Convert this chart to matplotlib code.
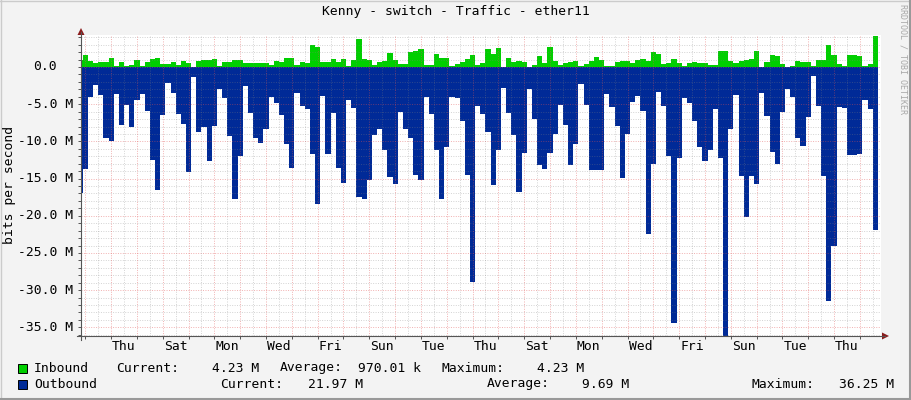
import numpy as np
import matplotlib.pyplot as plt
from matplotlib.lines import Line2D
from matplotlib.patches import Rectangle, Polygon
from matplotlib.transforms import blended_transform_factory

# time axis in days, t=0 is Wednesday 00:00; one sample every 0.2 day
t_first = -0.3
t_step = 0.2

# outbound traffic, Mbit/s (drawn below zero)
outbound = [
    17.0, 13.7, 4.0, 2.4, 3.7, 9.6, 9.9, 3.6, 7.8, 5.1,
    8.1, 4.4, 3.6, 5.9, 12.5, 16.6, 6.4, 2.1, 3.5, 6.3,
    7.6, 14.1, 1.3, 8.7, 8.0, 12.7, 7.9, 3.0, 4.2, 9.3,
    17.8, 11.9, 2.6, 6.2, 9.6, 10.2, 8.4, 4.0, 4.8, 6.4,
    10.4, 13.6, 3.5, 5.2, 5.7, 11.7, 18.4, 3.9, 11.7, 6.2,
    13.6, 15.6, 4.5, 5.5, 17.5, 17.8, 15.2, 9.1, 8.4, 11.1,
    14.8, 15.7, 6.0, 8.4, 9.6, 14.5, 15.2, 4.0, 6.3, 11.1,
    17.7, 10.8, 4.0, 4.2, 7.2, 14.5, 28.9, 5.2, 6.3, 8.7,
    15.8, 11.1, 2.8, 6.2, 9.2, 16.8, 11.6, 3.0, 7.0, 13.2,
    13.7, 11.6, 9.0, 5.1, 7.8, 13.2, 10.4, 2.3, 5.1, 13.9,
    13.9, 13.9, 3.6, 5.4, 7.9, 14.9, 9.0, 4.7, 3.9, 5.9,
    22.4, 13.0, 3.4, 5.2, 11.9, 34.4, 12.2, 4.2, 4.8, 7.2,
    10.8, 12.7, 11.1, 5.7, 12.2, 36.25, 8.3, 3.7, 14.6, 20.1,
    14.7, 15.7, 3.5, 6.6, 11.4, 13.1, 6.1, 3.0, 4.0, 9.6,
    10.6, 6.7, 1.2, 5.3, 14.6, 31.4, 24.0, 5.4, 5.5, 11.8,
    11.8, 11.7, 4.4, 5.7, 21.97,
]

# inbound traffic, Mbit/s
inbound = [
    1.0, 1.6, 0.85, 0.6, 0.7, 0.7, 1.2, 0.2, 0.7, 0.2,
    0.3, 0.9, 0.2, 0.7, 1.1, 1.2, 0.4, 0.45, 0.7, 0.3,
    0.8, 0.6, 0.05, 0.85, 0.9, 1.0, 1.1, 0.2, 0.7, 0.7,
    0.95, 0.9, 0.6, 0.55, 0.5, 0.6, 0.6, 0.3, 0.8, 0.7,
    1.2, 1.2, 0.3, 0.7, 0.6, 3.0, 2.7, 0.7, 0.7, 1.1,
    0.7, 1.1, 0.2, 0.95, 3.8, 1.1, 0.95, 0.3, 0.7, 0.8,
    1.9, 0.9, 0.45, 0.45, 2.0, 2.1, 2.4, 0.3, 0.3, 1.7,
    1.2, 1.2, 0.2, 0.4, 0.7, 1.1, 1.6, 0.3, 0.6, 2.4,
    1.8, 2.6, 0.0, 1.2, 0.7, 0.8, 0.7, 0.05, 0.3, 1.5,
    0.6, 2.7, 0.85, 0.3, 0.6, 0.65, 0.8, 0.1, 0.45, 0.85,
    1.35, 0.9, 0.2, 0.2, 0.7, 0.8, 0.8, 0.6, 0.95, 1.1,
    0.85, 2.0, 1.7, 0.4, 0.6, 1.1, 0.6, 0.2, 0.6, 0.7,
    0.6, 0.6, 0.3, 0.3, 2.1, 2.1, 0.85, 0.6, 0.75, 1.0,
    1.1, 2.1, 0.0, 0.7, 1.65, 1.5, 0.45, 0.05, 0.2, 0.8,
    0.7, 0.65, 0.2, 0.95, 0.95, 3.0, 1.6, 0.45, 0.2, 1.65,
    1.65, 1.5, 0.2, 0.45, 4.23,
]

day_labels = ["Thu", "Sat", "Mon", "Wed", "Fri", "Sun", "Tue", "Thu",
              "Sat", "Mon", "Wed", "Fri", "Sun", "Tue", "Thu"]
y_major = [0, -5, -10, -15, -20, -25, -30, -35]

inbound_stats = ["4.23 M", "970.01 k", "4.23 M"]
outbound_stats = ["21.97 M", "9.69 M", "36.25 M"]

W, H = 911, 400
MONO = "DejaVu Sans Mono"
FS = 9.4
GREEN = "#00CF00"
BLUE = "#002A97"


def fx(px):
    return px / W


def fy(py):
    return 1 - py / H


fig = plt.figure(figsize=(W / 100, H / 100), dpi=100, facecolor="#F3F3F3")
ax = fig.add_axes([fx(81), fy(336), 800 / W, 301 / H])
ax.set_facecolor("white")
ax.set_xlim(-0.1665, 30.818)
ax.set_ylim(-36.16, 4.30)

t = t_first + t_step * np.arange(len(outbound) + 1)
out_v = -np.append(outbound, outbound[-1])
in_v = np.append(inbound, inbound[-1])
ax.fill_between(t, 0, out_v, step="post", color=BLUE, lw=0, zorder=2)
ax.fill_between(t, 0, in_v, step="post", color=GREEN, lw=0, zorder=2)

# grid on top of the areas, like rrdtool
dots = (0, (1, 1.5))
for v in range(-36, 5):
    if v % 5 == 0:
        ax.axhline(v, color="#E05050", alpha=0.45, lw=0.7, ls=dots, zorder=3)
    else:
        ax.axhline(v, color="#808080", alpha=0.35, lw=0.7, ls=dots, zorder=3)
for d in range(0, 31):
    ax.axvline(d, color="#E05050", alpha=0.45, lw=0.7, ls=dots, zorder=3)
    ax.axvline(d + 0.5, color="#808080", alpha=0.35, lw=0.7, ls=dots, zorder=3)

for s in ax.spines.values():
    s.set_visible(False)
ax.set_xticks(range(0, 31))
ax.set_xticklabels([])
ax.set_yticks(range(-36, 5))
ax.set_yticklabels([])
ax.tick_params(axis="both", length=2.2, width=0.7, color="#555555")

# axis lines with arrows
axis_col = "#555555"
fig.add_artist(Line2D([fx(77), fx(885)], [fy(336), fy(336)], color=axis_col, lw=0.8))
fig.add_artist(Line2D([fx(81), fx(81)], [fy(340), fy(32)], color=axis_col, lw=0.8))
arrow_col = "#8B1C1C"
fig.add_artist(Polygon([(fx(77.5), fy(35)), (fx(84.5), fy(35)), (fx(81), fy(28))],
                       closed=True, color=arrow_col, lw=0))
fig.add_artist(Polygon([(fx(882), fy(332.5)), (fx(882), fy(339.5)), (fx(889), fy(336))],
                       closed=True, color=arrow_col, lw=0))

# y labels
ty = blended_transform_factory(fig.transFigure, ax.transData)
for v in y_major:
    if v == 0:
        ax.text(fx(56.5), v, "0.0", transform=ty, ha="right", va="center",
                family=MONO, fontsize=FS)
    else:
        ax.text(fx(73), v, f"{v:.1f} M", transform=ty, ha="right", va="center",
                family=MONO, fontsize=FS)

# day labels
tx = blended_transform_factory(ax.transData, fig.transFigure)
for i, lab in enumerate(day_labels):
    ax.text(1.5 + 2 * i, fy(347), lab, transform=tx, ha="center", va="center",
            family=MONO, fontsize=FS)

fig.text(fx(456), fy(12), "Kenny - switch - Traffic - ether11", ha="center",
         va="center", family=MONO, fontsize=FS)
fig.text(fx(10), fy(185), "bits per second", rotation=90, ha="center",
         va="center", family=MONO, fontsize=FS)
fig.text(fx(903), fy(4), "RRDTOOL / TOBI OETIKER", rotation=270, ha="center",
         va="top", family=MONO, fontsize=6.0, color="#A8A8A8")

# legend
fig.add_artist(Rectangle((fx(17.5), fy(372.5)), 9 / W, 9 / H, facecolor=GREEN,
                         edgecolor="black", lw=0.7))
fig.add_artist(Rectangle((fx(17.5), fy(388.5)), 9 / W, 9 / H, facecolor=BLUE,
                         edgecolor="black", lw=0.7))
row1 = [(34, "Inbound"), (116.5, "Current:"), (212.5, inbound_stats[0]),
        (279.5, "Average:"), (358.5, inbound_stats[1]), (441, "Maximum:"),
        (537, inbound_stats[2])]
row2 = [(34, "Outbound"), (220.5, "Current:"), (307.5, outbound_stats[0]),
        (486.5, "Average:"), (581.5, outbound_stats[1]), (751.5, "Maximum:"),
        (839, outbound_stats[2])]
for x, s in row1:
    fig.text(fx(x), fy(368), s, ha="left", va="center", family=MONO, fontsize=FS)
for x, s in row2:
    fig.text(fx(x), fy(384), s, ha="left", va="center", family=MONO, fontsize=FS)

# frame shading
fig.add_artist(Line2D([0, 1], [fy(0.5), fy(0.5)], color="#CBCBCB", lw=1))
fig.add_artist(Line2D([fx(0.5), fx(0.5)], [0, 1], color="#CBCBCB", lw=1))
fig.add_artist(Line2D([0, 1], [fy(399), fy(399)], color="#999999", lw=1.5))
fig.add_artist(Line2D([fx(910), fx(910)], [0, 1], color="#999999", lw=1.5))

fig.savefig("out.png", dpi=100, facecolor=fig.get_facecolor())
